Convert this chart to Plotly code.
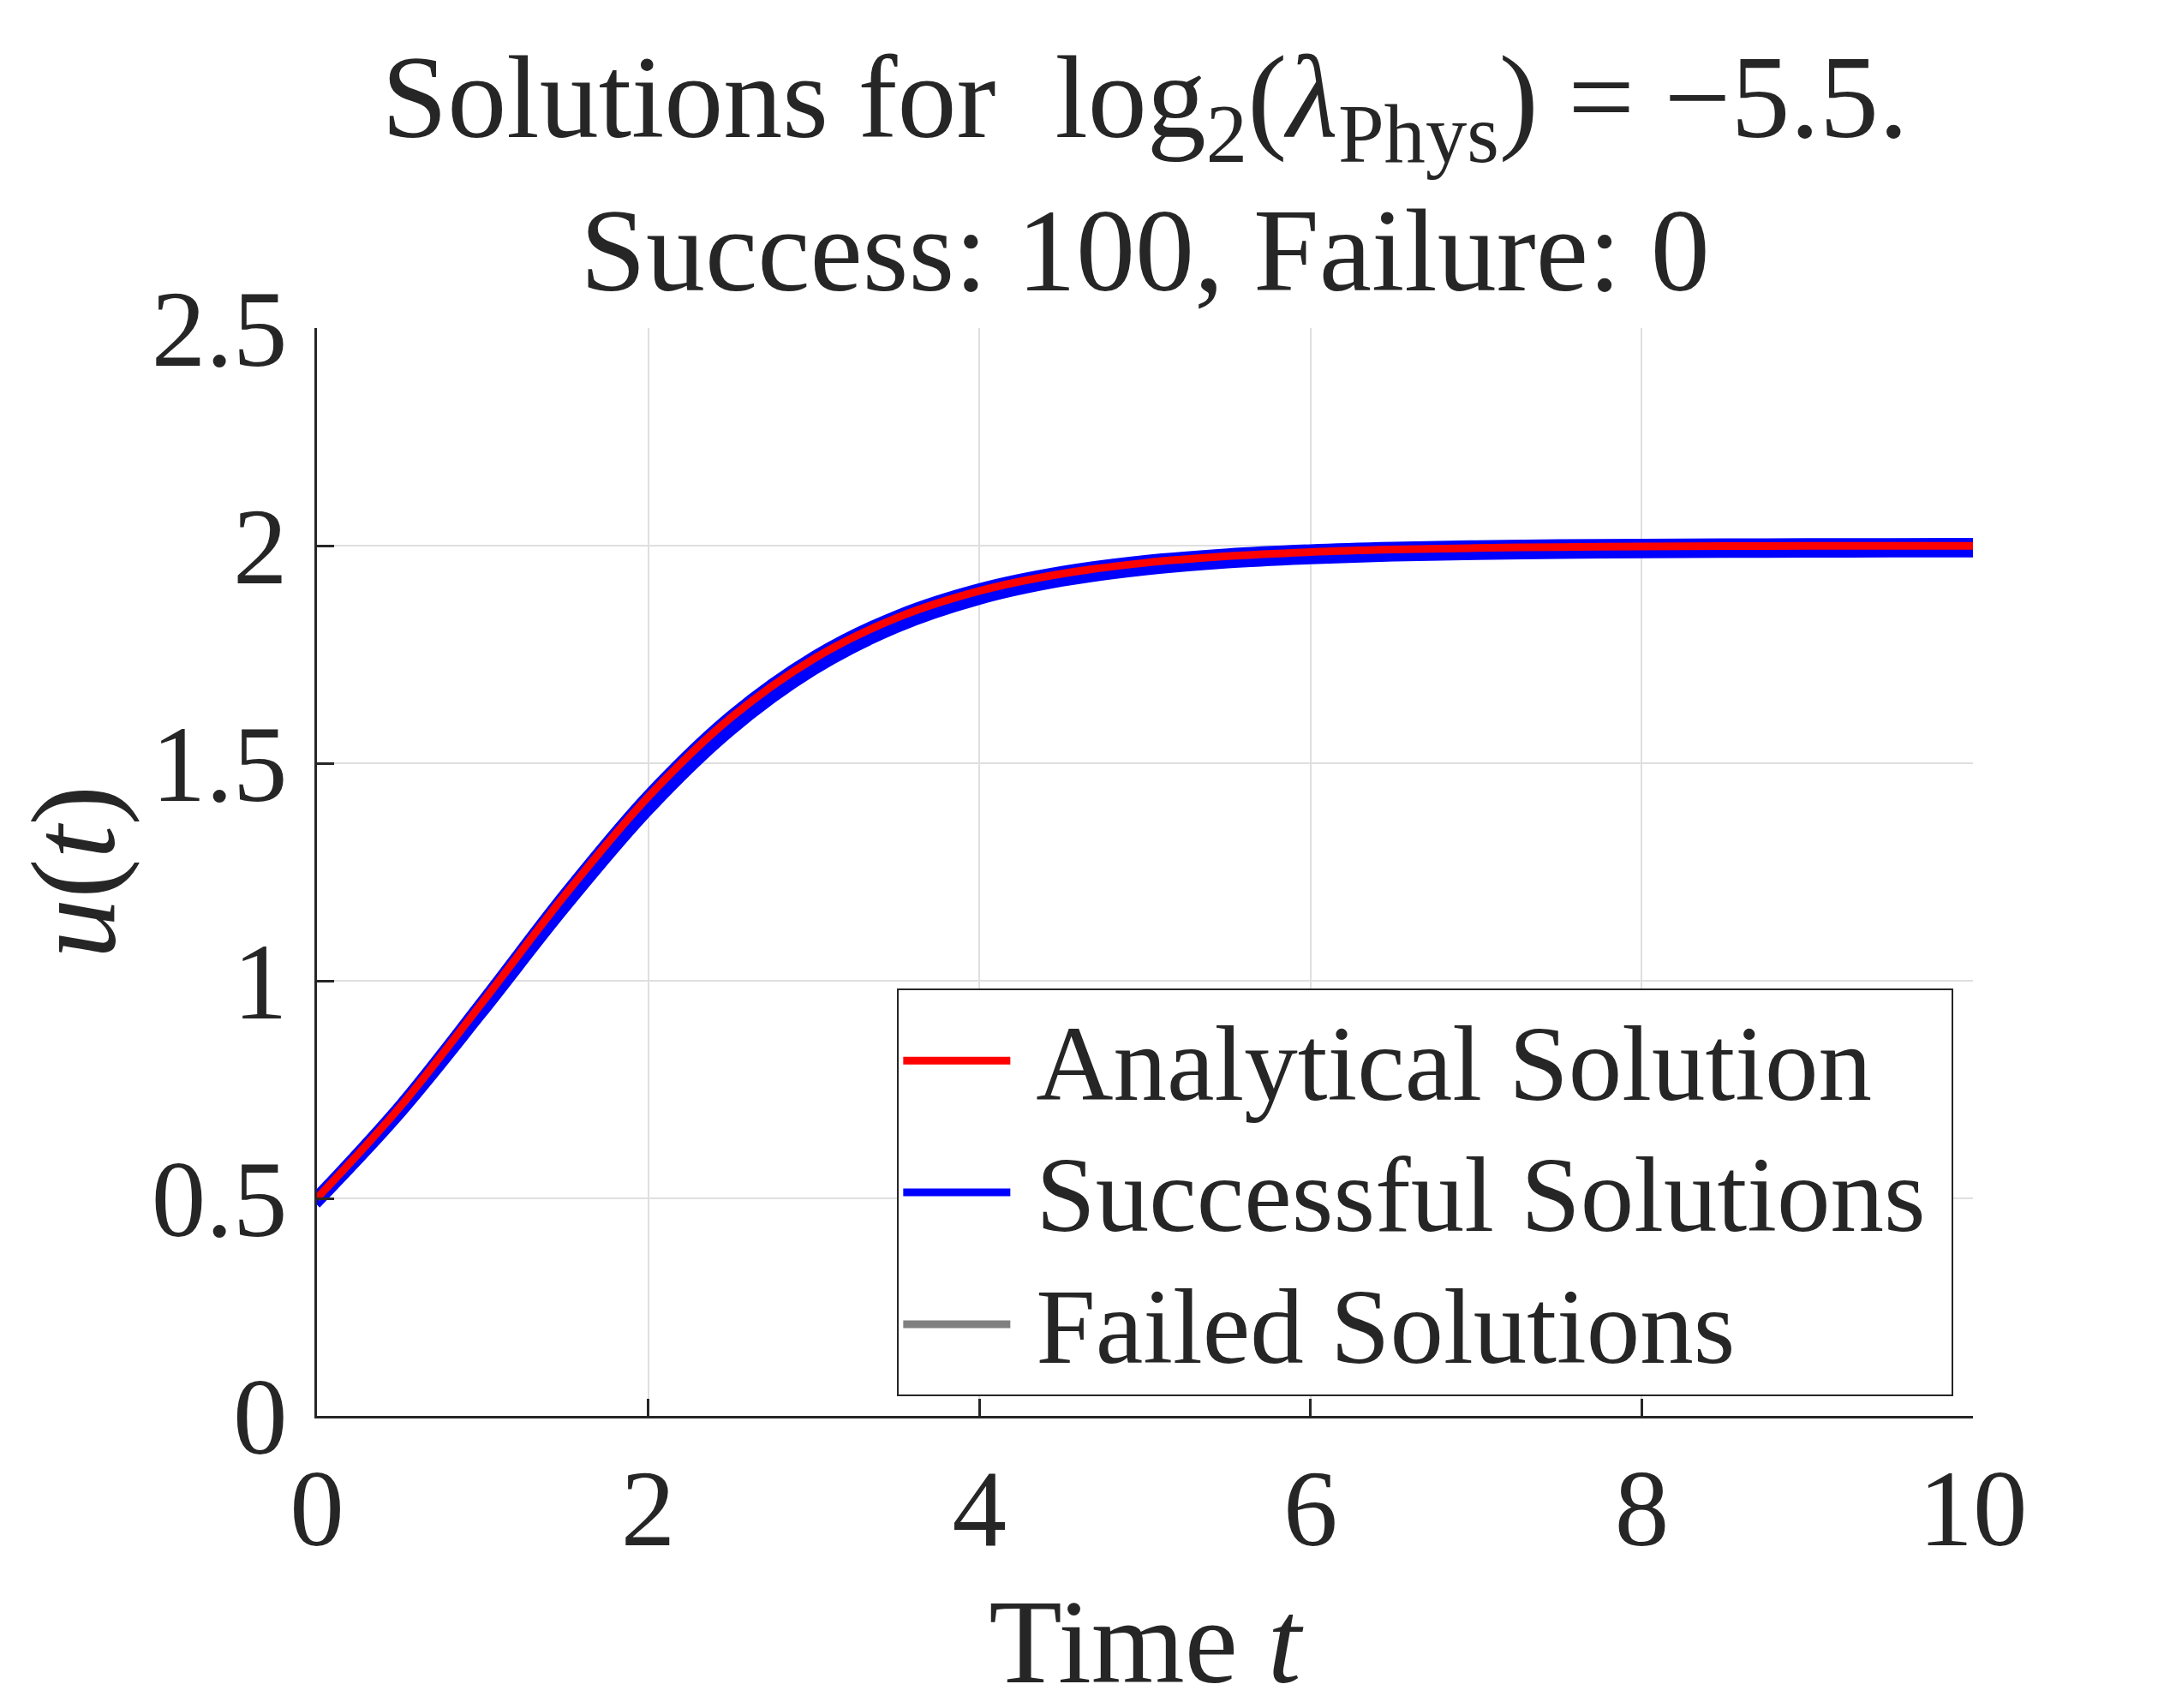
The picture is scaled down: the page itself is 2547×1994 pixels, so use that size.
import plotly.graph_objects as go

# time grid and curves
t = [0, 0.5, 1, 1.5, 2, 2.5, 3, 3.5, 4, 4.5, 5, 5.5, 6, 6.5, 7, 7.5, 8, 8.5, 9, 9.5, 10]

u_analytical = [0.5, 0.7093, 0.9507, 1.1980, 1.4225, 1.6048, 1.7401, 1.8339, 1.8958, 1.9355,
                1.9604, 1.9758, 1.9852, 1.9910, 1.9945, 1.9967, 1.9980, 1.9988, 1.9993, 1.9996, 1.9997]

# a few of the successful runs (upper edge, middle, lower edge of the blue bundle)
u_success_upper = [0.509, 0.7183, 0.9597, 1.2070, 1.4315, 1.6138, 1.7491, 1.8429, 1.9048, 1.9445,
                   1.9694, 1.9848, 1.9942, 2.0000, 2.0035, 2.0057, 2.0070, 2.0078, 2.0083, 2.0086, 2.0087]
u_success_mid = [0.4925, 0.6993, 0.9367, 1.1810, 1.4045, 1.5878, 1.7251, 1.8209, 1.8843, 1.9250,
                 1.9504, 1.9663, 1.9757, 1.9817, 1.9852, 1.9876, 1.9889, 1.9898, 1.9903, 1.9906, 1.9907]
u_success_lower = [0.485, 0.6893, 0.9227, 1.1640, 1.3865, 1.5708, 1.7101, 1.8079, 1.8728, 1.9145,
                   1.9404, 1.9568, 1.9662, 1.9725, 1.9760, 1.9785, 1.9798, 1.9807, 1.9813, 1.9816, 1.9817]

x_ticks = [0, 2, 4, 6, 8, 10]
y_ticks = [0, 0.5, 1, 1.5, 2, 2.5]

FONT = "Liberation Serif"
INK = "#262626"


def legend_label(s):
    # bigger glyphs than the legend row height, plus a little padding either side
    return '<span style="font-size:125px">\u2009' + s + '\u2009</span>'


fig = go.Figure()

success_runs = [u_success_lower, u_success_mid, u_success_upper]
for i, run in enumerate(success_runs):
    fig.add_trace(go.Scatter(
        x=t, y=run, mode='lines', line=dict(color='#0000ff', width=9, shape='spline'),
        name=legend_label('Successful Solutions'), showlegend=(i == 0), legendrank=2
    ))

# no failed runs, legend entry only
fig.add_trace(go.Scatter(
    x=[None], y=[None], mode='lines', line=dict(color='#808080', width=9),
    name=legend_label('Failed Solutions'), legendrank=3
))

fig.add_trace(go.Scatter(
    x=t, y=u_analytical, mode='lines', line=dict(color='#ff0000', width=9, shape='spline'),
    name=legend_label('Analytical Solution'), legendrank=1
))

axis_style = dict(
    showline=True, linecolor=INK, linewidth=3, mirror=False,
    ticks='inside', ticklen=20, tickwidth=3, tickcolor=INK,
    showgrid=True, gridcolor='#dfdfdf', gridwidth=2,
    zeroline=False,
    tickfont=dict(family=FONT, size=127, color=INK),
)

# page body adds 8px, so the figure is trimmed by that much
fig.update_layout(
    width=2539, height=1986,
    margin=dict(l=362, r=244, t=375, b=341),
    paper_bgcolor='white', plot_bgcolor='white',
    font=dict(family=FONT, color=INK),
    title=dict(
        text="Solutions for\u00a0\u00a0log<sub>2</sub>(<i>λ</i><sub>Phys</sub>) = −5.5.<br>Success: 100, Failure: 0",
        font=dict(family=FONT, size=138, color=INK),
        x=0.5, xref='paper', xanchor='center',
        y=1, yref='paper', yanchor='bottom',
        pad=dict(b=223),
    ),
    xaxis=dict(
        range=[0, 10], tickvals=x_ticks,
        title=dict(text="Time <i>t</i>", font=dict(family=FONT, size=140, color=INK), standoff=44),
        ticklabelstandoff=-4,
        **axis_style
    ),
    yaxis=dict(
        range=[0, 2.5], tickvals=y_ticks,
        title=dict(text="<i>u</i>(<i>t</i>)", font=dict(family=FONT, size=140, color=INK), standoff=28),
        ticklabelstandoff=6,
        **axis_style
    ),
    legend=dict(
        x=0.3504, y=0.3926, xanchor='left', yanchor='top',
        bgcolor='white', bordercolor=INK, borderwidth=2,
        font=dict(family=FONT, size=116, color=INK),
        itemwidth=125,
    ),
)

fig.write_html("out.html")
